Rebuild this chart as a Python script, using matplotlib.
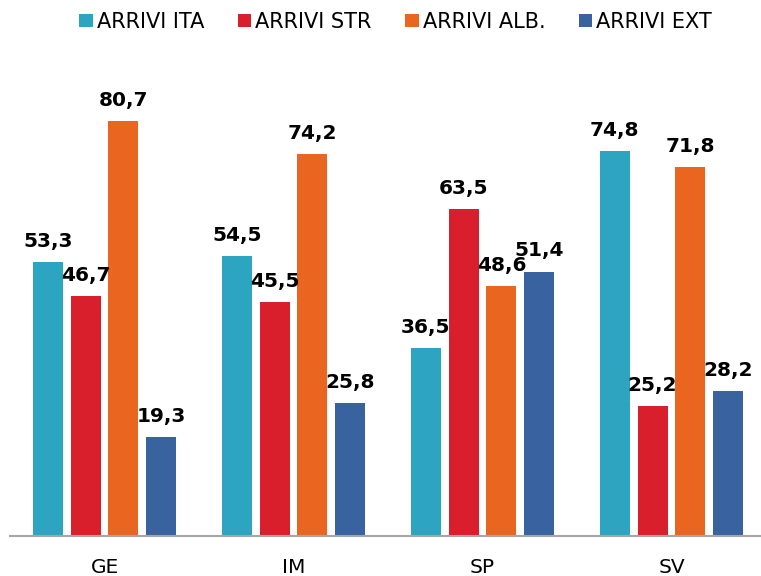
import numpy as np
import matplotlib.pyplot as plt

plt.rcParams['font.family'] = ['DejaVu Sans']

# data
categories = ['GE', 'IM', 'SP', 'SV']
series = ['ARRIVI ITA', 'ARRIVI STR', 'ARRIVI ALB.', 'ARRIVI EXT']
arrivi_ita = [53.3, 54.5, 36.5, 74.8]
arrivi_str = [46.7, 45.5, 63.5, 25.2]
arrivi_alb = [80.7, 74.2, 48.6, 71.8]
arrivi_ext = [19.3, 25.8, 51.4, 28.2]
colors = ['#2EA5C0', '#DA1F2C', '#EA6520', '#38639E']

values = [arrivi_ita, arrivi_str, arrivi_alb, arrivi_ext]

fig = plt.figure(figsize=(7.61, 5.76), dpi=100)
ax = fig.add_axes([10 / 761, 40 / 576, 751 / 761, 463 / 576])

x = np.arange(len(categories))
width = 0.159
step = 0.2
for i, (name, vals, col) in enumerate(zip(series, values, colors)):
    pos = x + (i - 1.5) * step
    bars = ax.bar(pos, vals, width, color=col, label=name)
    for b, v in zip(bars, vals):
        ax.annotate(f'{v:.1f}'.replace('.', ','),
                    xy=(b.get_x() + b.get_width() / 2, v),
                    xytext=(0, 8), textcoords='offset points',
                    ha='center', va='bottom', fontsize=14.5, fontweight='bold')

ax.set_xlim(-0.5, 3.5 - 5 / 189)
ax.set_ylim(0, 90)
ax.set_yticks([])
ax.set_xticks(x)
ax.set_xticklabels(categories, fontsize=14.5)
ax.tick_params(axis='x', length=0, pad=16)
for s in ['top', 'right', 'left']:
    ax.spines[s].set_visible(False)
ax.spines['bottom'].set_color('#A6A6A6')
ax.spines['bottom'].set_linewidth(1.5)

fig.legend(loc='upper center', bbox_to_anchor=(0.52, 1.012), ncol=4, frameon=False,
           fontsize=15, handlelength=0.65, handleheight=0.65, handletextpad=0.2,
           columnspacing=1.6)

plt.savefig('out.png', dpi=100)
